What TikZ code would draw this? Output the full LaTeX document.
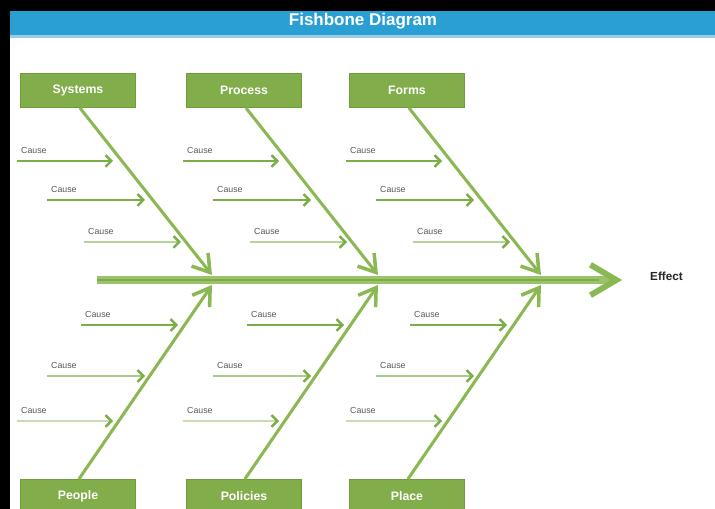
\documentclass[tikz,border=0pt]{standalone}
\usepackage{fontspec}
\setmainfont{Liberation Sans}
\usetikzlibrary{arrows.meta}

\definecolor{titleblue}{HTML}{2A9FD4}
\definecolor{titleline}{HTML}{9CCBE8}
\definecolor{boxgreen}{HTML}{82AD4B}
\definecolor{boxline}{HTML}{6E9E3A}
\definecolor{bonegreen}{HTML}{8BB852}
\definecolor{spinegreen}{HTML}{9CC26C}
\definecolor{causedark}{HTML}{7CAE48}
\definecolor{causemid}{HTML}{A9CB8B}
\definecolor{causelight}{HTML}{B5D39A}
\definecolor{causepale}{HTML}{C6DCB2}

\begin{document}
\begin{tikzpicture}[x=0.03cm,y=-0.03cm,
  category/.style={fill=boxgreen,draw=boxline,line width=0.8pt,
    minimum width=3.45cm,minimum height=1.02cm,inner sep=0pt,
    text=white,font=\fontsize{10.5}{12}\selectfont\bfseries},
  bone/.style={draw=bonegreen,line width=2.6pt,
    -{Straight Barb[length=14pt,width=18pt,line width=3pt]}},
  cause/.style={line width=2.3pt,
    -{Straight Barb[length=5pt,width=10pt,line width=2pt,color=causedark]}},
  causetext/.style={anchor=west,inner sep=0pt,text=black!65,
    font=\fontsize{7.5}{8}\selectfont},
  spine/.style={draw=spinegreen,line width=6.5pt,
    -{Straight Barb[length=22pt,width=26pt,line width=5pt,color=bonegreen]}}]

  % frame and title bar
  \clip (0,0) rectangle (715,509);
  \fill[black] (0,0) rectangle (715,509);
  \fill[white] (10,11) rectangle (715,509);
  \fill[titleblue] (10,11) rectangle (715,35);
  \fill[titleline] (10,35) rectangle (715,38);
  \node[text=white,font=\fontsize{14.5}{16}\selectfont\bfseries] (title) at (363,21) {Fishbone Diagram};

  % spine
  \coordinate (tail) at (97,280);
  \coordinate (head) at (622,280);
  \node[anchor=west,inner sep=0pt,text=black!85,font=\fontsize{10}{12}\selectfont\bfseries] (effect) at (650,276) {Effect};
  \draw[spine] (tail) -- (head);
  \draw[causedark,line width=1.6pt] (tail) -- ([xshift=-20pt]head);

  % categories with their causes
  \foreach \top/\bot/\s [count=\i] in {Systems/People/0,Process/Policies/166,Forms/Place/329}{
    \node[category] (top\i) at (78+\s,90.5) {\top};
    \node[category] (bot\i) at (78+\s,496.5) {\bot};
    \coordinate (tt\i) at (212+\s,275);
    \coordinate (bt\i) at (212+\s,285);
    \draw[bone] ([xshift=1.7pt]top\i.south) -- (tt\i);
    \draw[bone] ([xshift=0.8pt]bot\i.north) -- (bt\i);
    \foreach \a/\y/\b/\c [count=\k] in {17/161/113/causedark,47/200/145/causedark,
        84/242/181/causelight,81/325/178/causedark,47/376/145/causemid,17/421/113/causepale}{
      \coordinate (cs\i\k) at (\a+\s,\y);
      \coordinate (ce\i\k) at (\b+\s,\y);
      \node[causetext] (cl\i\k) at (\a+\s+4,\y-11) {Cause};
      \draw[cause,draw=\c] (cs\i\k) -- (ce\i\k);
    }
  }
\end{tikzpicture}
\end{document}
